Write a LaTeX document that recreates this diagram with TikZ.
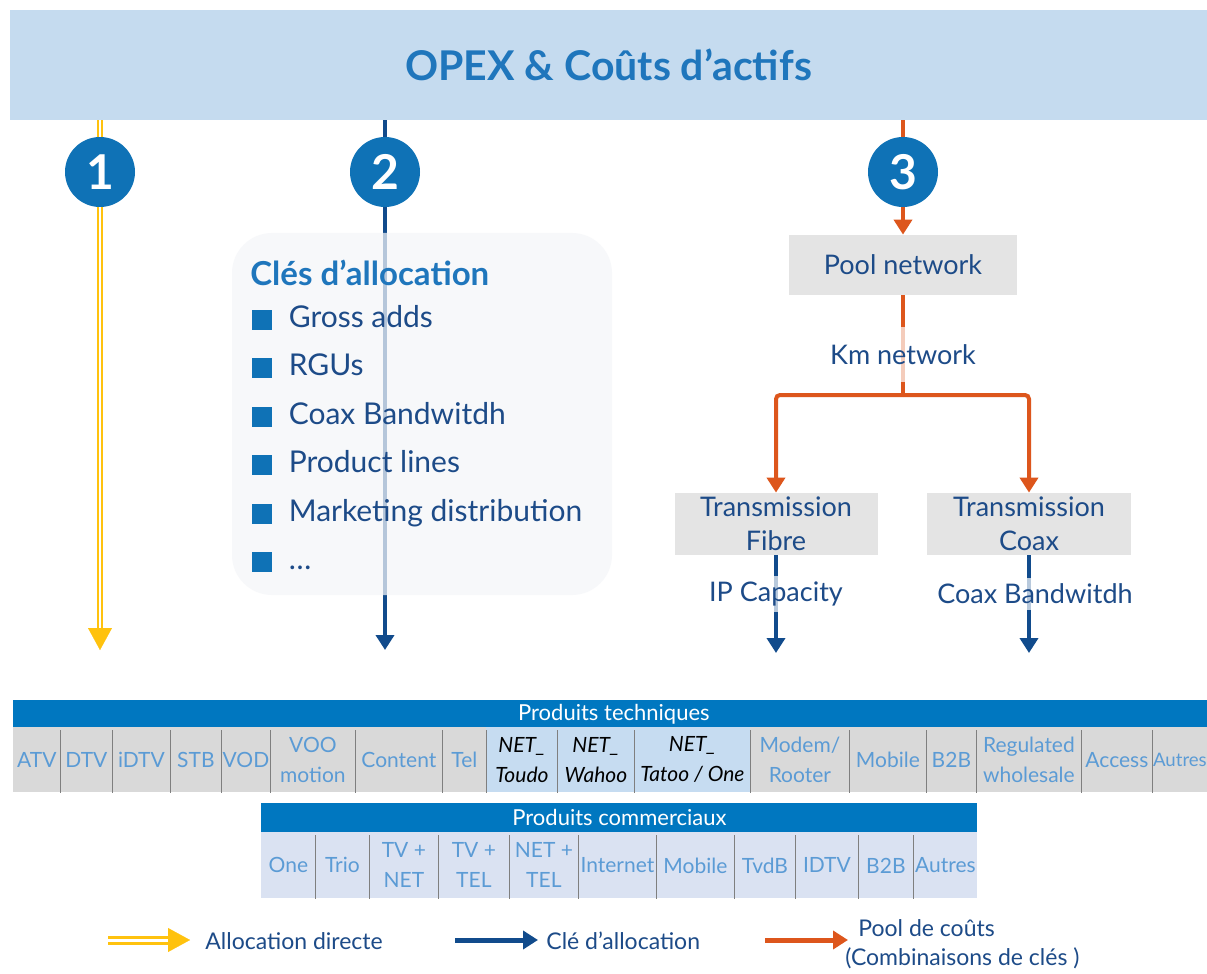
\documentclass[tikz,border=0pt]{standalone}
\usepackage{fontspec}
\setmainfont{Lato}
\usetikzlibrary{arrows.meta,positioning}

\definecolor{bandblue}{HTML}{C5DBEF}
\definecolor{titleblue}{HTML}{1F76BC}
\definecolor{numblue}{HTML}{0F72B6}
\definecolor{keynavy}{HTML}{114B8C}
\definecolor{textnavy}{HTML}{1D4B88}
\definecolor{poolorange}{HTML}{DD561C}
\definecolor{allocyellow}{HTML}{FFC20E}
\definecolor{headblue}{HTML}{0077C0}
\definecolor{cellgray}{HTML}{D9D9D9}
\definecolor{netblue}{HTML}{C6DCF1}
\definecolor{combg}{HTML}{DAE2F2}
\definecolor{celltext}{HTML}{5B9BD5}
\definecolor{sepgray}{HTML}{7F7F7F}
\definecolor{boxgray}{HTML}{E4E4E4}
\definecolor{keyfill}{HTML}{F5F6F9}

\begin{document}
\begin{tikzpicture}[x=0.5pt,y=-0.5pt,
	band/.style={fill=bandblue, minimum width=598.5pt, minimum height=55pt, inner sep=0, text=titleblue, font=\bfseries\fontsize{20.5}{24}\selectfont},
	num/.style={circle, fill=numblue, text=white, minimum size=35pt, inner sep=0, font=\bfseries\fontsize{24}{24}\selectfont},
	yline/.style={draw=allocyellow, line width=1pt, double=white, double distance=1.3pt},
	yhead/.style={allocyellow, line width=0.1pt, -{Triangle[width=12pt,length=11pt]}},
	kline/.style={draw=keynavy, line width=2pt},
	pline/.style={draw=poolorange, line width=2pt},
	ktip/.style={-{Triangle[width=9pt,length=7.5pt]}},
	keybox/.style={fill=keyfill, fill opacity=0.72, rounded corners=20pt, minimum width=190pt, minimum height=181pt, inner sep=0},
	keyhead/.style={anchor=west, inner sep=0, text=titleblue, font=\bfseries\fontsize{16.5}{19}\selectfont},
	sq/.style={fill=numblue, minimum size=10pt, inner sep=0},
	keyitem/.style={inner sep=0, text=textnavy, text height=10.5pt, text depth=3pt, font=\fontsize{15}{18}\selectfont},
	gbox/.style={fill=boxgray, text=textnavy, inner sep=0, align=center, font=\fontsize{13.5}{17}\selectfont},
	lbl/.style={fill=white, fill opacity=0.7, text opacity=1, text=textnavy, inner xsep=7pt, inner ysep=3pt, font=\fontsize{13.5}{17}\selectfont},
	thead/.style={fill=headblue, text=white, inner sep=0, anchor=north west, font=\fontsize{11}{13}\selectfont},
	tcell/.style={fill=cellgray, text=celltext, inner sep=0, anchor=north west, minimum height=32.5pt, align=center, font=\fontsize{10.5}{15}\selectfont},
	tnet/.style={tcell, fill=netblue, text=black, font=\itshape\fontsize{10.5}{15}\selectfont},
	ccell/.style={tcell, fill=combg, minimum height=33pt},
	cellsep/.style={draw=sepgray, line width=0.6pt},
	legtext/.style={text=textnavy, inner sep=0, anchor=west, font=\fontsize{11.5}{14}\selectfont}]

	\clip (0,0) rectangle (1207,974);
	\fill[white] (0,0) rectangle (1207,974);

	% header band and the three numbers
	\node[band] (opex) at (608.5,65) {OPEX \& Coûts d’actifs};
	\node[num] (n1) at (100,172) {1};
	\node[num] (n2) at (385,172) {2};
	\node[num] (n3) at (903,172) {3};

	% 1 : allocation directe
	\coordinate (y1) at (100,628);
	\coordinate (y2) at (100,650);
	\draw[yline] (opex.south -| n1) -- (n1);
	\draw[yline] (n1) -- (y1);
	\draw[yhead] (y1) -- (y2);

	% 2 : cles d'allocation
	\coordinate (k2) at (385,650);
	\draw[kline] (opex.south -| n2) -- (n2);
	\draw[kline,ktip] (n2) -- (k2);

	\node[keybox] (keys) at (422,414) {};
	\node[keyhead] (cles) at (250,273) {Clés d’allocation};
	\node[sq] (b1) at (262,320) {};
	\node[sq] (b2) at (262,368) {};
	\node[sq] (b3) at (262,417) {};
	\node[sq] (b4) at (262,465) {};
	\node[sq] (b5) at (262,514) {};
	\node[sq] (b6) at (262,562) {};
	\node[keyitem, right=8pt of b1] (i1) {Gross adds};
	\node[keyitem, right=8pt of b2] (i2) {RGUs};
	\node[keyitem, right=8pt of b3] (i3) {Coax Bandwitdh};
	\node[keyitem, right=8pt of b4] (i4) {Product lines};
	\node[keyitem, right=8pt of b5] (i5) {Marketing distribution};
	\node[keyitem, right=8pt of b6] (i6) {\dots};

	% 3 : pool de couts
	\node[gbox, minimum width=114pt, minimum height=30pt] (pool) at (903,265) {Pool network};
	\node[gbox, minimum width=101.5pt, minimum height=31pt] (fib) at (776,524) {Transmission\\Fibre};
	\node[gbox, minimum width=102pt, minimum height=31pt] (coax) at (1029,524) {Transmission\\Coax};
	\coordinate (j) at (903,395);
	\coordinate (e3) at (776,653);
	\coordinate (e4) at (1029,653);

	\draw[pline] (opex.south -| n3) -- (n3);
	\draw[pline,ktip] (n3) -- (pool);
	\draw[pline] (pool) -- (j);
	\draw[pline,ktip,rounded corners=2pt] (j) -| (fib);
	\draw[pline,ktip,rounded corners=2pt] (j) -| (coax);
	\node[lbl, minimum width=129pt, minimum height=27.5pt] (km) at (903,355) {Km network};

	\draw[kline,ktip] (fib) -- (e3);
	\draw[kline,ktip] (coax) -- (e4);
	\node[lbl] (ip) at (776,594) {IP Capacity};
	\node[lbl] (bw) at (1035,594) {Coax Bandwitdh};

	% produits techniques
	\node[thead, minimum width=600.5pt, minimum height=13.5pt] (tech) at (13,700) {Produits techniques};
	\node[tcell, minimum width=23.5pt] (atv) at (13,727) {ATV};
	\node[tcell, minimum width=26pt] (dtv) at (60,727) {DTV};
	\node[tcell, minimum width=29pt] (idtv) at (112,727) {iDTV};
	\node[tcell, minimum width=25.5pt] (stb) at (170,727) {STB};
	\node[tcell, minimum width=24.5pt] (vod) at (221,727) {VOD};
	\node[tcell, minimum width=42.5pt] (voo) at (270,727) {VOO\\motion};
	\node[tcell, minimum width=43.5pt] (content) at (355,727) {Content};
	\node[tcell, minimum width=22pt] (tel) at (442,727) {Tel};
	\node[tnet, minimum width=35.5pt] (toudo) at (486,727) {NET\_\\Toudo};
	\node[tnet, minimum width=38.5pt] (wahoo) at (557,727) {NET\_\\Wahoo};
	\node[tnet, minimum width=58pt] (tatoo) at (634,727) {NET\_\\Tatoo / One};
	\node[tcell, minimum width=49.5pt] (modem) at (750,727) {Modem/\\Rooter};
	\node[tcell, minimum width=38.5pt] (mobile) at (849,727) {Mobile};
	\node[tcell, minimum width=25pt] (btob) at (926,727) {B2B};
	\node[tcell, minimum width=52.5pt] (regul) at (976,727) {Regulated\\wholesale};
	\node[tcell, minimum width=35.5pt] (access) at (1081,727) {Access};
	\node[tcell, minimum width=27.5pt, font=\fontsize{9.3}{15}\selectfont] (autres) at (1152,727) {Autres};

	\draw[cellsep] ([yshift=-1.5pt]atv.north east) -- (atv.south east);
	\draw[cellsep] ([yshift=-1.5pt]dtv.north east) -- (dtv.south east);
	\draw[cellsep] ([yshift=-1.5pt]idtv.north east) -- (idtv.south east);
	\draw[cellsep] ([yshift=-1.5pt]stb.north east) -- (stb.south east);
	\draw[cellsep] ([yshift=-1.5pt]vod.north east) -- (vod.south east);
	\draw[cellsep] ([yshift=-1.5pt]voo.north east) -- (voo.south east);
	\draw[cellsep] ([yshift=-1.5pt]content.north east) -- (content.south east);
	\draw[cellsep] ([yshift=-1.5pt]tel.north east) -- (tel.south east);
	\draw[cellsep] ([yshift=-1.5pt]toudo.north east) -- (toudo.south east);
	\draw[cellsep] ([yshift=-1.5pt]wahoo.north east) -- (wahoo.south east);
	\draw[cellsep] ([yshift=-1.5pt]tatoo.north east) -- (tatoo.south east);
	\draw[cellsep] ([yshift=-1.5pt]modem.north east) -- (modem.south east);
	\draw[cellsep] ([yshift=-1.5pt]mobile.north east) -- (mobile.south east);
	\draw[cellsep] ([yshift=-1.5pt]btob.north east) -- (btob.south east);
	\draw[cellsep] ([yshift=-1.5pt]regul.north east) -- (regul.south east);
	\draw[cellsep] ([yshift=-1.5pt]access.north east) -- (access.south east);

	% produits commerciaux
	\node[thead, minimum width=358pt, minimum height=14.5pt] (comm) at (261,803) {Produits commerciaux};
	\node[ccell, minimum width=27pt] (one) at (261,832) {One};
	\node[ccell, minimum width=27pt] (trio) at (315,832) {Trio};
	\node[ccell, minimum width=34.5pt] (tvnet) at (369,832) {TV +\\NET};
	\node[ccell, minimum width=35.5pt] (tvtel) at (438,832) {TV +\\TEL};
	\node[ccell, minimum width=34.5pt] (nettel) at (509,832) {NET +\\TEL};
	\node[ccell, minimum width=39pt] (inet) at (578,832) {Internet};
	\node[ccell, minimum width=39pt] (cmob) at (656,832) {Mobile};
	\node[ccell, minimum width=30.5pt] (tvdb) at (734,832) {TvdB};
	\node[ccell, minimum width=31.5pt] (idtvc) at (795,832) {IDTV};
	\node[ccell, minimum width=27.5pt] (cbtob) at (858,832) {B2B};
	\node[ccell, minimum width=32pt] (cautres) at (913,832) {Autres};

	\draw[cellsep] ([yshift=-1.5pt]one.north east) -- (one.south east);
	\draw[cellsep] ([yshift=-1.5pt]trio.north east) -- (trio.south east);
	\draw[cellsep] ([yshift=-1.5pt]tvnet.north east) -- (tvnet.south east);
	\draw[cellsep] ([yshift=-1.5pt]tvtel.north east) -- (tvtel.south east);
	\draw[cellsep] ([yshift=-1.5pt]nettel.north east) -- (nettel.south east);
	\draw[cellsep] ([yshift=-1.5pt]inet.north east) -- (inet.south east);
	\draw[cellsep] ([yshift=-1.5pt]cmob.north east) -- (cmob.south east);
	\draw[cellsep] ([yshift=-1.5pt]tvdb.north east) -- (tvdb.south east);
	\draw[cellsep] ([yshift=-1.5pt]idtvc.north east) -- (idtvc.south east);
	\draw[cellsep] ([yshift=-1.5pt]cbtob.north east) -- (cbtob.south east);

	% legend
	\coordinate (ly1) at (108,940);
	\coordinate (ly2) at (168,940);
	\coordinate (ly3) at (190,940);
	\coordinate (lb1) at (455,940);
	\coordinate (lb2) at (538,940);
	\coordinate (lo1) at (765,940);
	\coordinate (lo2) at (848,940);
	\draw[yline, line width=1.5pt, double distance=1.5pt] (ly1) -- (ly2);
	\draw[yhead] (ly2) -- (ly3);
	\draw[kline, line width=2.5pt, ktip] (lb1) -- (lb2);
	\draw[pline, line width=2.5pt, ktip] (lo1) -- (lo2);
	\node[legtext] (ldir) at (205,941) {Allocation directe};
	\node[legtext] (lcle) at (546,941) {Clé d’allocation};
	\node[legtext] (lpool) at (858,928) {Pool de coûts};
	\node[legtext] (lcomb) at (845,958) {(Combinaisons de clés )};
\end{tikzpicture}
\end{document}
